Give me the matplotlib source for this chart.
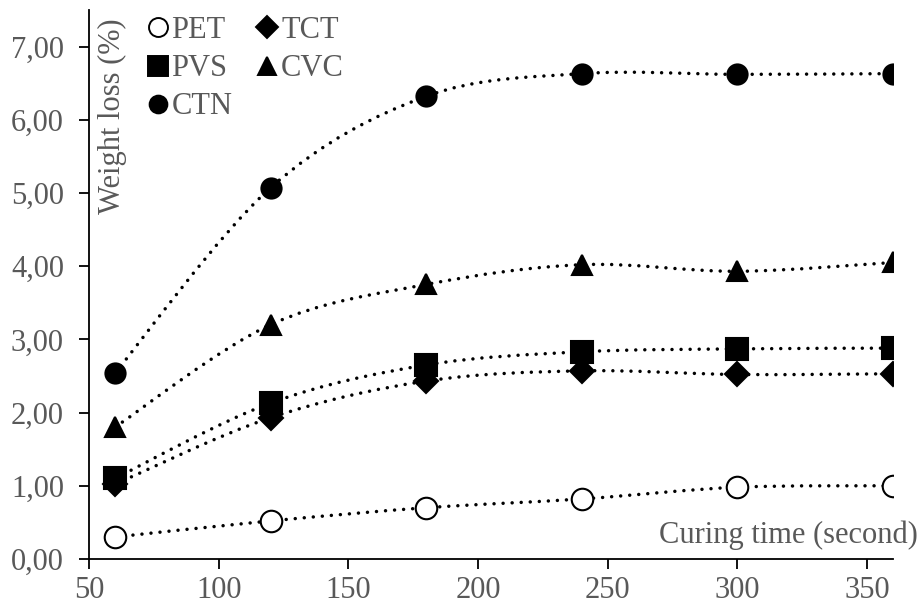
import numpy as np
import matplotlib
matplotlib.use("Agg")
import matplotlib.pyplot as plt
from matplotlib.path import Path
from matplotlib.patches import PathPatch
from matplotlib.lines import Line2D
from matplotlib.ticker import FuncFormatter

plt.rcParams["font.family"] = ["Liberation Serif", "DejaVu Serif"]
GREY = "#595959"
FS = 22

# curing time (s) and weight loss (%)
time = [60, 120, 180, 240, 300, 360]
pet = [0.30, 0.52, 0.70, 0.82, 0.98, 1.00]
tct = [1.02, 1.93, 2.43, 2.57, 2.52, 2.53]
pvs = [1.10, 2.13, 2.65, 2.83, 2.87, 2.88]
cvc = [1.80, 3.20, 3.75, 4.02, 3.93, 4.05]
ctn = [2.54, 5.07, 6.32, 6.63, 6.62, 6.63]

series = [("PET", pet, "o", 15.5, "white"),
          ("TCT", tct, "D", 12.5, "black"),
          ("PVS", pvs, "s", 16.0, "black"),
          ("CVC", cvc, "^", 15.0, "black"),
          ("CTN", ctn, "o", 14.5, "black")]


def smooth_path(x, y):
    """Excel-style smoothed line: cubic Bezier segments with Catmull-Rom control points."""
    p = np.column_stack([x, y]).astype(float)
    verts, codes = [p[0]], [Path.MOVETO]
    n = len(p)
    for i in range(n - 1):
        p0 = p[i - 1] if i > 0 else p[i]
        p3 = p[i + 2] if i + 2 < n else p[i + 1]
        c1 = p[i] + (p[i + 1] - p0) / 6
        c2 = p[i + 1] - (p3 - p[i]) / 6
        verts += [c1, c2, p[i + 1]]
        codes += [Path.CURVE4] * 3
    return Path(verts, codes)


fig = plt.figure(figsize=(9.23, 6.06), dpi=100)
ax = fig.add_axes([0.0964, 0.0776, 0.8711, 0.906])

handles = {}
for name, vals, mk, ms, fc in series:
    ax.add_patch(PathPatch(smooth_path(time, vals), fill=False, color="black", lw=2.5,
                           linestyle=(0, (0.01, 2.6)), capstyle="round", zorder=2))
    ax.plot(time, vals, ls="none", marker=mk, ms=ms, mfc=fc, mec="black", mew=1.5, zorder=3)
    handles[name] = Line2D([], [], ls="none", marker=mk, ms=ms * 0.88, mfc=fc,
                           mec="black", mew=1.4)

ax.set_xlim(50, 360)
ax.set_ylim(0, 7.5)
ax.set_xticks([50, 100, 150, 200, 250, 300, 350])
ax.set_yticks(np.arange(0, 7.01, 1.0))
ax.yaxis.set_major_formatter(FuncFormatter(lambda v, _: f"{v:.2f}".replace(".", ",")))
ax.tick_params(direction="out", length=7, width=1.3, labelsize=FS, labelcolor=GREY,
               color="black", pad=5)
ax.tick_params(axis="y", pad=11)
for s in ("top", "right"):
    ax.spines[s].set_visible(False)
for s in ("left", "bottom"):
    ax.spines[s].set_linewidth(1.3)

ax.text(0.029, 0.985, "Weight loss (%)", transform=ax.transAxes, rotation=90,
        ha="center", va="top", fontsize=FS, color=GREY)
ax.text(1.031, 0.044, "Curing time (second)", transform=ax.transAxes,
        ha="right", va="center", fontsize=FS, color=GREY)

order = ["PET", "PVS", "CTN", "TCT", "CVC"]
leg = ax.legend([handles[k] for k in order], order, ncol=2, loc="upper left",
                bbox_to_anchor=(0.053, 1.011), frameon=False, fontsize=FS,
                handletextpad=0.0, handlelength=0.9, columnspacing=0.7,
                labelspacing=0.3, borderaxespad=0)
for t in leg.get_texts():
    t.set_color(GREY)

fig.savefig("out.png", dpi=100)
